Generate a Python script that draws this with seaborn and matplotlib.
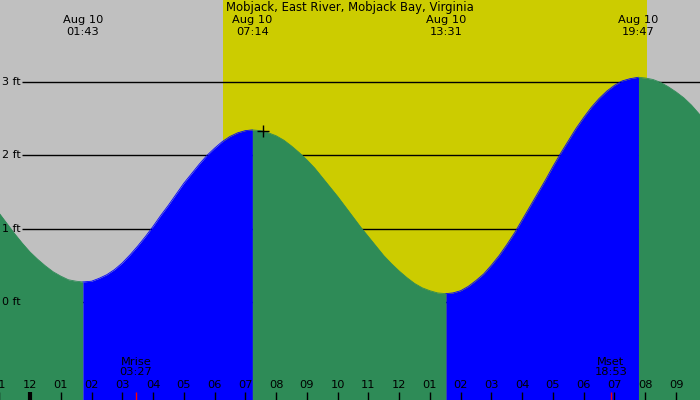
import numpy as np
import pandas as pd
import matplotlib
matplotlib.use("Agg")
import matplotlib.pyplot as plt
import seaborn as sns

# tide heights (ft), hours from midnight Aug 10
hours = [-1.0, -0.75, -0.5, -0.25, 0.0, 0.25, 0.5, 0.75, 1.0, 1.25, 1.5, 1.72,
         2.0, 2.25, 2.5, 2.75, 3.0, 3.25, 3.5, 3.75, 4.0, 4.25, 4.5, 4.75,
         5.0, 5.25, 5.5, 5.75, 6.0, 6.25, 6.5, 6.75, 7.0, 7.23,
         7.5, 7.75, 8.0, 8.25, 8.5, 8.75, 9.0, 9.25, 9.5, 9.75, 10.0, 10.25,
         10.5, 10.75, 11.0, 11.25, 11.5, 11.75, 12.0, 12.25, 12.5, 12.75,
         13.0, 13.25, 13.52,
         13.75, 14.0, 14.25, 14.5, 14.75, 15.0, 15.25, 15.5, 15.75, 16.0,
         16.25, 16.5, 16.75, 17.0, 17.25, 17.5, 17.75, 18.0, 18.25, 18.5,
         18.75, 19.0, 19.25, 19.5, 19.78,
         20.0, 20.25, 20.5, 20.75, 21.0, 21.25, 21.5, 21.75, 22.0]
heights = [1.21, 1.07, 0.93, 0.80, 0.68, 0.58, 0.49, 0.41, 0.35, 0.30, 0.28, 0.27,
           0.28, 0.32, 0.37, 0.44, 0.53, 0.64, 0.76, 0.89, 1.03, 1.18, 1.32, 1.47,
           1.62, 1.75, 1.88, 2.00, 2.10, 2.19, 2.26, 2.31, 2.34, 2.35,
           2.34, 2.31, 2.27, 2.21, 2.13, 2.04, 1.94, 1.83, 1.70, 1.57, 1.44, 1.30,
           1.16, 1.02, 0.89, 0.76, 0.63, 0.52, 0.42, 0.33, 0.25, 0.19,
           0.15, 0.12, 0.11,
           0.12, 0.15, 0.21, 0.29, 0.38, 0.50, 0.63, 0.78, 0.94, 1.12,
           1.30, 1.48, 1.66, 1.85, 2.03, 2.20, 2.37, 2.52, 2.66, 2.78,
           2.88, 2.96, 3.02, 3.05, 3.07,
           3.06, 3.04, 3.00, 2.94, 2.87, 2.79, 2.69, 2.57, 2.45]

# high / low tides
extreme_hours = [1.72, 7.23, 13.52, 19.78]
extreme_labels = ["01:43", "07:14", "13:31", "19:47"]
extreme_date = "Aug 10"

sunrise, sunset = 6.27, 20.05
moon_hours = [3.45, 18.88]
moon_labels = ["Mrise\n03:27", "Mset\n18:53"]

now_hour, now_height = 7.57, 2.33

tick_hours = list(range(-1, 22))
tick_labels = ["11", "12", "01", "02", "03", "04", "05", "06", "07", "08", "09",
               "10", "11", "12", "01", "02", "03", "04", "05", "06", "07", "08", "09"]
ft_levels = [0, 1, 2, 3]

title = "Mobjack, East River, Mobjack Bay, Virginia"

GRAY = "#c0c0c0"
YELLOW = "#cccc00"
GREEN = "#2e8b57"
BLUE = "#0000ff"

sns.set_style("white")
plt.rcParams['font.family'] = ['DejaVu Sans']
plt.rcParams['text.color'] = 'black'

df = pd.DataFrame({"hour": hours, "height": heights})

fig = plt.figure(figsize=(7, 4), dpi=100)
ax = fig.add_axes([0, 0, 1, 1])
ax.set_facecolor(GRAY)
for s in ax.spines.values():
    s.set_visible(False)
ax.set_xticks([])
ax.set_yticks([])

xmin, xmax = -0.975, 21.78
ymin, ymax = -1.345, 4.127
ax.set_xlim(xmin, xmax)
ax.set_ylim(ymin, ymax)

# daylight
ax.axvspan(sunrise, sunset, color=YELLOW, zorder=0, lw=0)

# foot lines (behind water)
ax.hlines(ft_levels, -0.26, xmax, color="black", lw=1, zorder=1)
for lv in ft_levels:
    ax.text(2 / 30.76 + xmin, lv, f"{lv} ft", ha="left", va="center",
            fontsize=8, zorder=5)

# water, green falling / blue rising
bounds = [hours[0]] + extreme_hours + [hours[-1]]
for i in range(len(bounds) - 1):
    seg = df[(df.hour >= bounds[i]) & (df.hour <= bounds[i + 1])]
    rising = seg.height.iloc[-1] > seg.height.iloc[0]
    col = BLUE if rising else GREEN
    ax.fill_between(seg.hour, seg.height, ymin, color=col, lw=0, zorder=2)
    sns.lineplot(data=seg, x="hour", y="height", color=col, lw=0.6,
                 sort=False, ax=ax, zorder=3)
ax.set_xlabel("")
ax.set_ylabel("")

ax.plot([now_hour], [now_height], marker="+", color="black", ms=9, mew=1,
        zorder=6)

# top labels
trans = ax.get_xaxis_transform()
ax.text((xmin + xmax) / 2, 1 - 8 / 400, title, transform=trans, ha="center",
        va="center", fontsize=8.4, zorder=6)
for h, lab in zip(extreme_hours, extreme_labels):
    ax.text(h, 1 - 20 / 400, extreme_date, transform=trans, ha="center",
            va="center", fontsize=8.2, zorder=6)
    ax.text(h, 1 - 32 / 400, lab, transform=trans, ha="center",
            va="center", fontsize=8.2, zorder=6)

# bottom hour ticks
for h, lab in zip(tick_hours, tick_labels):
    ax.vlines(h, 0, 8 / 400, transform=trans, color="black",
              lw=3 if h == 0 else 1, zorder=6)
    ax.text(h, 15 / 400, lab, transform=trans, ha="center", va="center",
            fontsize=8.2, zorder=6)

# moon rise / set
for h, lab in zip(moon_hours, moon_labels):
    ax.vlines(h, 0, 8 / 400, transform=trans, color="red", lw=1, zorder=7)
    ax.text(h, 33 / 400, lab, transform=trans, ha="center", va="center",
            fontsize=8.2, linespacing=0.95, zorder=6)

fig.savefig("out.png", dpi=100)
